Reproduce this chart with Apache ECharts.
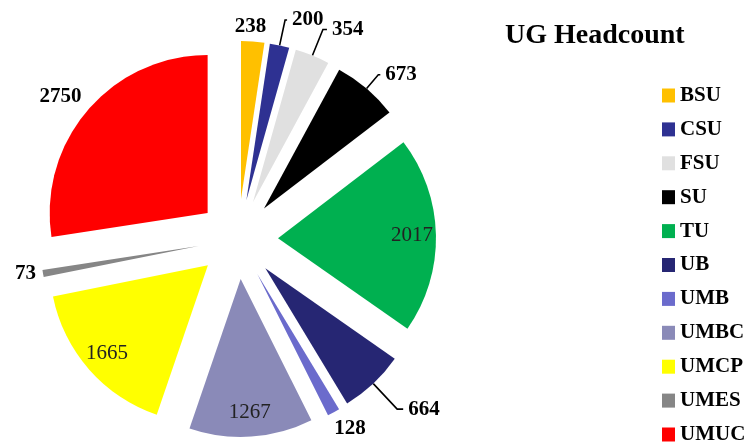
<!DOCTYPE html>
<html>
<head>
<meta charset="utf-8">
<script src="https://cdn.jsdelivr.net/npm/echarts@6/dist/echarts.min.js"></script>
<style>
  html, body { margin: 0; padding: 0; background: #fff; }
  #chart { width: 756px; height: 444px; }
</style>
</head>
<body>
<div id="chart"></div>
<script>
// 数据
const campuses = ['BSU', 'CSU', 'FSU', 'SU', 'TU', 'UB', 'UMB', 'UMBC', 'UMCP', 'UMES', 'UMUC'];
const headcount = [238, 200, 354, 673, 2017, 664, 128, 1267, 1665, 73, 2750];
const insideNames = ['TU', 'UMBC', 'UMCP']; // 标签在扇区内的

const palette = ['#FFC000', '#2E3192', '#E0E0E0', '#000000', '#00B050', '#262673',
  '#6B6BCC', '#8A8AB8', '#FFFF00', '#868686', '#FF0000'];

// 外部标签引导线 (length, length2, 是否画线)
const lineCfg = {
  BSU: [15, -24, false],
  CSU: [26, 2, true],
  FSU: [28, 4, true],
  SU: [18, 2, true],
  UB: [35, 6, true],
  UMB: [18, -13, false],
  UMES: [2, 0, false],
  UMUC: [20, -14, false]
};

const font = 'Liberation Serif';
const center = [238, 239];

const pieData = campuses.map((name, i) => {
  const inside = insideNames.indexOf(name) >= 0;
  const cfg = lineCfg[name] || [10, 5, false];
  return {
    name: name,
    value: headcount[i],
    selected: true,
    itemStyle: { color: palette[i] },
    label: { show: !inside },
    labelLine: { show: cfg[2], length: cfg[0], length2: cfg[1] }
  };
});

// 内部标签用一个透明的叠加饼图
const innerLabelData = campuses.map((name, i) => {
  const inside = insideNames.indexOf(name) >= 0;
  return {
    name: name,
    value: headcount[i],
    selected: true,
    label: { show: inside }
  };
});

const myChart = echarts.init(document.getElementById('chart'));
const option = {
  animation: false,
  title: {
    text: 'UG Headcount',
    left: 505,
    top: 22,
    padding: 0,
    textStyle: { fontFamily: font, fontSize: 28, fontWeight: 'bold', color: '#000' }
  },
  legend: {
    orient: 'vertical',
    left: 662,
    top: 85,
    height: 420,
    padding: 0,
    icon: 'rect',
    itemWidth: 13,
    itemHeight: 14,
    itemGap: 12.9,
    selectedMode: false,
    data: campuses,
    textStyle: { fontFamily: font, fontSize: 21, fontWeight: 'bold', color: '#000' }
  },
  series: [
    {
      type: 'pie',
      center: center,
      radius: [0, 158],
      selectedMode: 'multiple',
      selectedOffset: 40,
      avoidLabelOverlap: false,
      silent: true,
      itemStyle: { borderWidth: 0 },
      label: {
        position: 'outside',
        formatter: '{c}',
        fontFamily: font,
        fontSize: 21,
        fontWeight: 'bold',
        color: '#000',
        distanceToLabelLine: 5
      },
      labelLine: {
        lineStyle: { color: '#000', width: 1.6 },
        smooth: false
      },
      emphasis: { disabled: true },
      data: pieData
    },
    {
      type: 'pie',
      center: center,
      radius: [104, 158],
      selectedMode: 'multiple',
      selectedOffset: 40,
      avoidLabelOverlap: false,
      silent: true,
      itemStyle: { color: 'rgba(0,0,0,0)', borderWidth: 0 },
      label: {
        position: 'inside',
        formatter: '{c}',
        fontFamily: font,
        fontSize: 21,
        color: '#222'
      },
      labelLine: { show: false },
      emphasis: { disabled: true },
      data: innerLabelData
    }
  ]
};
myChart.setOption(option);
</script>
</body>
</html>
